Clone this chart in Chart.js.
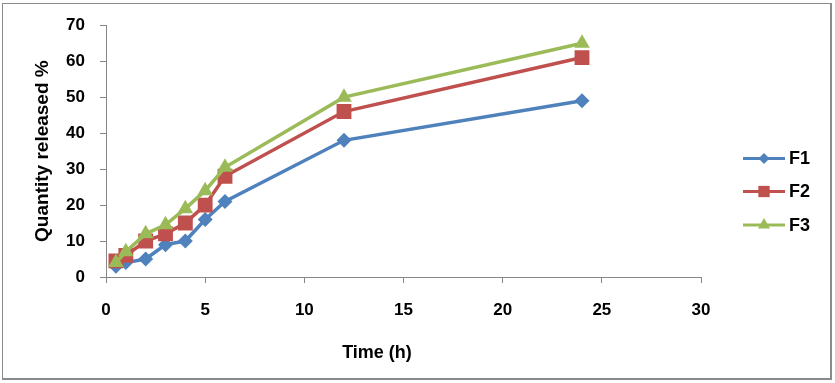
<!DOCTYPE html>
<html>
<head>
<meta charset="utf-8">
<script src="https://cdn.jsdelivr.net/npm/chart.js@4/dist/chart.umd.min.js"></script>
<style>
  html, body { margin: 0; padding: 0; background: #fff; }
  #wrap { position: relative; width: 835px; height: 383px; }
  #c { position: absolute; left: 0; top: 0; }
  #frame { position: absolute; left: 2px; top: 3px; width: 827px; height: 374px;
           border: 1px solid #8a8a8a; border-right-width: 2px; border-bottom-width: 2px;
           pointer-events: none; }
</style>
</head>
<body>
<div id="wrap">
  <canvas id="c" width="835" height="383"></canvas>
  <div id="frame"></div>
</div>
<script>
const time = [0.5, 1, 2, 3, 4, 5, 6, 12, 24];
const F1 = [3, 4, 5, 9, 10, 16, 21, 38, 49];
const F2 = [4.5, 6, 10, 12, 15, 20, 28, 46, 61];
const F3 = [4, 7, 12, 14.5, 19, 24, 30.5, 50, 65];
const seriesNames = ['F1', 'F2', 'F3'];
const xTitle = 'Time (h)';
const yTitle = 'Quantity released %';

const FONT = '"Liberation Sans", Arial, sans-serif';
const colors = ['#4F81BD', '#C0504D', '#9BBB59'];
const styles = ['rectRot', 'rect', 'triangle'];
const radii = [7.5, 10.5, 9];
const legendRadii = [5.5, 8, 7];

function pts(ys) { return time.map((t, i) => ({ x: t, y: ys[i] })); }

const datasets = [F1, F2, F3].map((ys, i) => ({
  label: seriesNames[i],
  data: pts(ys),
  borderColor: colors[i],
  backgroundColor: colors[i],
  borderWidth: 3.5,
  pointStyle: styles[i],
  pointRadius: radii[i],
  pointBorderWidth: 0,
  pointHoverRadius: radii[i],
  order: 2 - i,
  tension: 0
}));

const textPlugin = {
  id: 'sideLegend',
  afterDraw(chart) {
    const ctx = chart.ctx;
    const ys = [158.5, 191.5, 225];
    ctx.save();
    datasets.forEach((ds, i) => {
      const y = ys[i];
      ctx.strokeStyle = ds.borderColor;
      ctx.lineWidth = 3;
      ctx.beginPath();
      ctx.moveTo(743, y);
      ctx.lineTo(785, y);
      ctx.stroke();
      ctx.fillStyle = ds.backgroundColor;
      ctx.strokeStyle = ds.backgroundColor;
      Chart.helpers.drawPoint(ctx, { pointStyle: ds.pointStyle, radius: legendRadii[i], borderWidth: 0 }, 764, y);
      ctx.fillStyle = '#000';
      ctx.font = 'bold 18px ' + FONT;
      ctx.textBaseline = 'middle';
      ctx.textAlign = 'left';
      ctx.fillText(ds.label, 789, y + 1);
    });
    // x axis title
    ctx.fillStyle = '#000';
    ctx.font = 'bold 18px ' + FONT;
    ctx.textAlign = 'center';
    ctx.textBaseline = 'middle';
    ctx.fillText(xTitle, 377, 353);
    ctx.restore();
  }
};

new Chart(document.getElementById('c'), {
  type: 'line',
  data: { datasets },
  options: {
    responsive: false,
    animation: false,
    events: [],
    layout: { padding: { left: 0, right: 134, top: 25, bottom: 0 } },
    plugins: { legend: { display: false }, tooltip: { enabled: false } },
    scales: {
      x: {
        type: 'linear',
        min: 0, max: 30,
        ticks: { stepSize: 5, color: '#000', padding: 17, font: { family: FONT, size: 17, weight: 'bold' } },
        grid: { drawOnChartArea: false, drawTicks: true, tickLength: 6, color: '#868686' },
        border: { display: true, color: '#868686', width: 1 },
        title: { display: false, text: xTitle },
        afterFit(scale) { scale.height = 106; }
      },
      y: {
        type: 'linear',
        min: 0, max: 70,
        ticks: { stepSize: 10, color: '#000', padding: 15, font: { family: FONT, size: 17, weight: 'bold' } },
        grid: { drawOnChartArea: false, drawTicks: true, tickLength: 6, color: '#868686' },
        border: { display: true, color: '#868686', width: 1 },
        title: { display: true, text: yTitle, color: '#000', padding: { top: 31, bottom: 0 }, font: { family: FONT, size: 19, weight: 'bold' } },
        afterFit(scale) { scale.width = 106; }
      }
    }
  },
  plugins: [textPlugin]
});
</script>
</body>
</html>
